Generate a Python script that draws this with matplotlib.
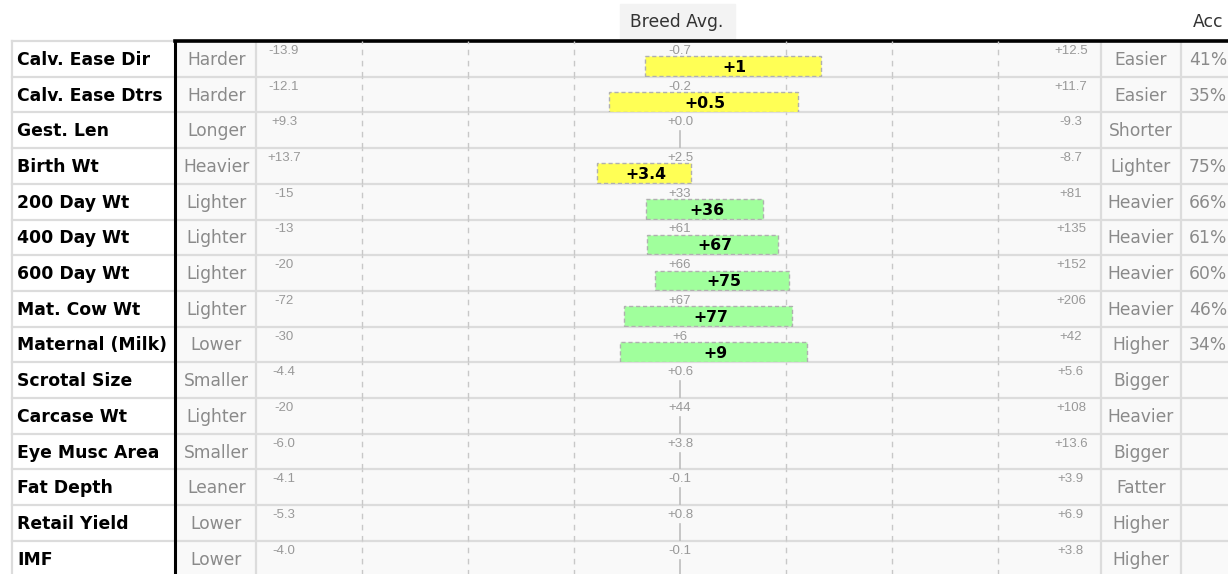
import matplotlib.pyplot as plt
from matplotlib.patches import Rectangle

plt.rcParams.update({
    "font.family": ["DejaVu Sans"],
    "figure.facecolor": "white",
})

# ------------------------------------------------------------------
# data
traits = ["Calv. Ease Dir", "Calv. Ease Dtrs", "Gest. Len", "Birth Wt",
          "200 Day Wt", "400 Day Wt", "600 Day Wt", "Mat. Cow Wt",
          "Maternal (Milk)", "Scrotal Size", "Carcase Wt", "Eye Musc Area",
          "Fat Depth", "Retail Yield", "IMF"]
low_words = ["Harder", "Harder", "Longer", "Heavier", "Lighter", "Lighter",
             "Lighter", "Lighter", "Lower", "Smaller", "Lighter", "Smaller",
             "Leaner", "Lower", "Lower"]
high_words = ["Easier", "Easier", "Shorter", "Lighter", "Heavier", "Heavier",
              "Heavier", "Heavier", "Higher", "Bigger", "Heavier", "Bigger",
              "Fatter", "Higher", "Higher"]
scale_left = [-13.9, -12.1, 9.3, 13.7, -15, -13, -20, -72, -30, -4.4, -20, -6.0, -4.1, -5.3, -4.0]
scale_right = [12.5, 11.7, -9.3, -8.7, 81, 135, 152, 206, 42, 5.6, 108, 13.6, 3.9, 6.9, 3.8]
breed_avg = [-0.7, -0.2, 0.0, 2.5, 33, 61, 66, 67, 6, 0.6, 44, 3.8, -0.1, 0.8, -0.1]
decimals = [1, 1, 1, 1, 0, 0, 0, 0, 0, 1, 0, 1, 1, 1, 1]
ebv = [1, 0.5, None, 3.4, 36, 67, 75, 77, 9, None, None, None, None, None, None]
bar_lo = [-1.8, -2.2, None, 2.2, 29.1, 55.2, 60.9, 48.8, 0.9, None, None, None, None, None, None]
bar_hi = [3.7, 3.1, None, 4.7, 42.4, 78.1, 88.1, 103.7, 16.8, None, None, None, None, None, None]
bar_kind = ["calving", "calving", None, "calving", "growth", "growth", "growth",
            "growth", "growth", None, None, None, None, None, None]
accuracy = ["41%", "35%", "", "75%", "66%", "61%", "60%", "46%", "34%",
            "", "", "", "", "", ""]

bar_colors = {"calving": "#ffff55", "growth": "#a0ff9c"}

# ------------------------------------------------------------------
W, H = 1228, 574
TOP = 41
ROW_H = 35.7
X_LAB, X_DESC, X_CHART, X_CHART_END, X_HIGH, X_ACC = 12, 175, 256, 1104, 1101, 1181
GRID = "#dcdcdc"
GREY_TXT = "#8a8a8a"
SMALL_FONT = ["Liberation Sans", "DejaVu Sans"]

fig = plt.figure(figsize=(W / 100, H / 100), dpi=100)

# table frame drawn in pixel units
bg = fig.add_axes([0, 0, 1, 1])
bg.set_xlim(0, W)
bg.set_ylim(H, 0)
bg.axis("off")

bg.add_patch(Rectangle((X_DESC, TOP), W - X_DESC, H - TOP, color="#f9f9f9", zorder=0))
bg.add_patch(Rectangle((620, 4), 115, 35, color="#f3f3f3", zorder=0))
bg.text(677, 22, "Breed Avg.", ha="center", va="center", fontsize=12.3, color="#333333")
bg.text(1193, 22, "Acc", ha="left", va="center", fontsize=12.3, color="#333333")

n = len(traits)
for i in range(1, n + 1):
    y = TOP + i * ROW_H
    bg.plot([X_LAB, W], [y, y], color=GRID, lw=1.6, zorder=1)
bg.plot([X_LAB, X_DESC], [TOP, TOP], color=GRID, lw=1.6, zorder=1)
for x in [X_LAB, X_CHART, X_HIGH, X_ACC]:
    bg.plot([x, x], [TOP, H], color=GRID, lw=1.6, zorder=1)
bg.plot([X_DESC, X_DESC], [TOP, H], color="black", lw=2.2, zorder=3)
bg.plot([X_DESC, W], [TOP, TOP], color="black", lw=2.6, zorder=3)

for i in range(n):
    yc = TOP + (i + 0.5) * ROW_H
    bg.text(17, yc + 1, traits[i], ha="left", va="center", fontsize=12.4,
            fontweight="bold", color="black")
    bg.text((X_DESC + X_CHART) / 2 + 1, yc + 1, low_words[i], ha="center", va="center",
            fontsize=12.3, color=GREY_TXT)
    bg.text((X_HIGH + X_ACC) / 2, yc + 1, high_words[i], ha="center", va="center",
            fontsize=12.3, color=GREY_TXT)
    bg.text(X_ACC + 8, yc + 1, accuracy[i], ha="left", va="center",
            fontsize=12.3, color=GREY_TXT)

# one small axes per trait, each with its own scale
for i in range(n):
    top = TOP + i * ROW_H
    ax = fig.add_axes([X_CHART / W, 1 - (top + ROW_H) / H,
                       (X_CHART_END - X_CHART) / W, ROW_H / H])
    ax.set_facecolor("none")
    ax.axis("off")
    lo_lim, hi_lim = scale_left[i], scale_right[i]
    ax.set_xlim(lo_lim, hi_lim)
    ax.set_ylim(0, 1)

    for k in [1, 2, 3, 5, 6, 7]:
        xk = lo_lim + (hi_lim - lo_lim) * k / 8
        ax.plot([xk, xk], [0, 1], color="#c8c8c8", lw=1, linestyle=(0, (4, 4)), zorder=1)
    ax.plot([breed_avg[i], breed_avg[i]], [0, 0.47], color="#bdbdbd", lw=1.2, zorder=1)

    d = decimals[i]
    ax.text(0.033, 0.72, f"{lo_lim:+.{d}f}", transform=ax.transAxes, ha="center",
            va="center", fontsize=9.5, color="#999999", family=SMALL_FONT)
    ax.text(0.961, 0.72, f"{hi_lim:+.{d}f}", transform=ax.transAxes, ha="center",
            va="center", fontsize=9.5, color="#999999", family=SMALL_FONT)
    ax.text(breed_avg[i], 0.72, f"{breed_avg[i]:+.{d}f}", ha="center",
            va="center", fontsize=9.5, color="#999999", family=SMALL_FONT)

    if ebv[i] is not None:
        ax.barh(0.295, bar_hi[i] - bar_lo[i], left=bar_lo[i], height=0.55,
                color=bar_colors[bar_kind[i]], edgecolor="#b0b0b0", lw=1,
                linestyle=(0, (3, 2)), zorder=2)
        ax.text(ebv[i], 0.26, f"{ebv[i]:+g}", ha="center", va="center",
                fontsize=11.3, fontweight="bold", color="black", zorder=3)

fig.savefig("out.png", dpi=100)
